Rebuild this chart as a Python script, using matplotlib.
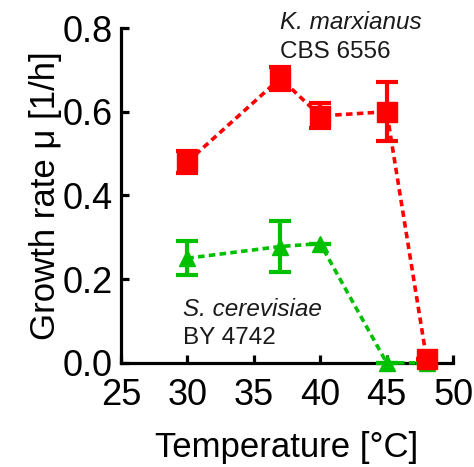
import matplotlib
matplotlib.use("Agg")
import matplotlib.pyplot as plt

plt.rcParams['font.family'] = ['Liberation Sans', 'DejaVu Sans']

# K. marxianus CBS 6556
temp_km = [30, 37, 40, 45, 48]
rate_km = [0.48, 0.68, 0.59, 0.60, 0.01]
err_km = [0.027, 0.027, 0.03, 0.07, 0.0]

# S. cerevisiae BY 4742
temp_sc = [30, 37, 40, 45, 48]
rate_sc = [0.25, 0.278, 0.285, 0.0, 0.0]
err_sc = [0.04, 0.061, 0.0, 0.0, 0.0]

x_ticks = [25, 30, 35, 40, 45, 50]
y_ticks = [0.0, 0.2, 0.4, 0.6, 0.8]

red = '#ff0000'
green = '#00c000'
ls = (0, (1.8, 1.2))

fig = plt.figure(figsize=(4.74, 4.67), dpi=100)
ax = fig.add_axes([0.255, 0.223, 0.701, 0.717])

ax.errorbar(temp_sc, rate_sc, yerr=err_sc, color=green, marker='^', markersize=12,
            linestyle=ls, linewidth=2.6, elinewidth=3, capsize=8, capthick=3,
            clip_on=False, zorder=3)
ax.errorbar(temp_km, rate_km, yerr=err_km, color=red, marker='s', markersize=14,
            linestyle=ls, linewidth=2.6, elinewidth=3, capsize=8, capthick=3,
            clip_on=False, zorder=4)

ax.set_xlim(25, 50)
ax.set_ylim(0, 0.8)
ax.set_xticks(x_ticks)
ax.set_yticks(y_ticks)
ax.set_yticklabels(['%.1f' % v for v in y_ticks])

for s in ['top', 'right']:
    ax.spines[s].set_visible(False)
for s in ['left', 'bottom']:
    ax.spines[s].set_linewidth(2.3)

ax.tick_params(direction='in', length=6, width=2.3, labelsize=26)
ax.tick_params(axis='x', pad=11)
ax.tick_params(axis='y', pad=6)

ax.set_xlabel('Temperature [°C]', fontsize=25, labelpad=13)
ax.set_ylabel('Growth rate μ [1/h]', fontsize=25, labelpad=0)

ax.text(36.97, 0.812, 'K. marxianus', fontsize=17.5, style='italic', va='center', color='#1a1a1a')
ax.text(36.97, 0.743, 'CBS 6556', fontsize=17.5, va='center', color='#1a1a1a')
ax.text(29.67, 0.127, 'S. cerevisiae', fontsize=17.5, style='italic', va='center', color='#1a1a1a')
ax.text(29.67, 0.06, 'BY 4742', fontsize=17.5, va='center', color='#1a1a1a')

fig.savefig('out.png', dpi=100)
